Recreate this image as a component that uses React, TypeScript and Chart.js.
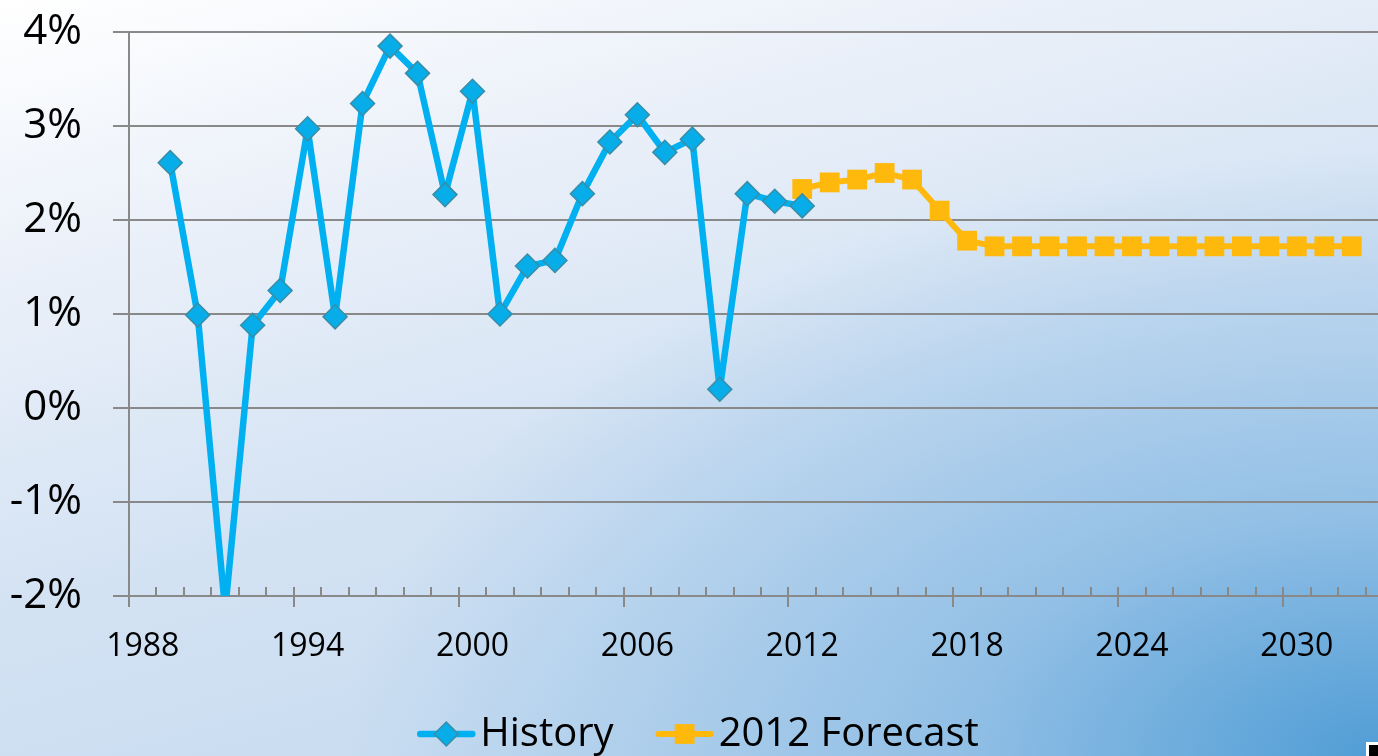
import React, { useEffect, useRef } from "react";
import { Chart, registerables } from "chart.js";

Chart.register(...registerables);

// ---- data ----
const years = [
  "1988", "1989", "1990", "1991", "1992", "1993", "1994", "1995", "1996", "1997",
  "1998", "1999", "2000", "2001", "2002", "2003", "2004", "2005", "2006", "2007",
  "2008", "2009", "2010", "2011", "2012", "2013", "2014", "2015", "2016", "2017",
  "2018", "2019", "2020", "2021", "2022", "2023", "2024", "2025", "2026", "2027",
  "2028", "2029", "2030", "2031", "2032", "2033",
];

const xTickLabels = ["1988", "1994", "2000", "2006", "2012", "2018", "2024", "2030"];
const yTickValues = [-2, -1, 0, 1, 2, 3, 4];

const historyStart = "1989";
const historyValues = [
  2.61, 0.99, -2.15, 0.88, 1.25, 2.97, 0.97, 3.24, 3.85, 3.56, 2.27, 3.37,
  1.0, 1.51, 1.57, 2.28, 2.83, 3.12, 2.72, 2.86, 0.2, 2.28, 2.2, 2.15,
];

const forecastStart = "2012";
const forecastValues = [
  2.33, 2.4, 2.43, 2.5, 2.43, 2.1, 1.78, 1.72, 1.72, 1.72, 1.72, 1.72, 1.72,
  1.72, 1.72, 1.72, 1.72, 1.72, 1.72, 1.72, 1.72,
];

const seriesNames = ["History", "2012 Forecast"];

const FONT = "'Open Sans', sans-serif";
const AXIS_GRAY = "#898989";

function pad(start: string, values: number[]): (number | null)[] {
  const offset = years.indexOf(start);
  return years.map((_, i) =>
    i >= offset && i - offset < values.length ? values[i - offset] : null
  );
}

function drawMarker(
  ctx: CanvasRenderingContext2D,
  style: string,
  x: number,
  y: number,
  r: number,
  fill: string,
  stroke: string,
  bw: number
) {
  ctx.beginPath();
  if (style === "rectRot") {
    ctx.moveTo(x, y - r);
    ctx.lineTo(x + r, y);
    ctx.lineTo(x, y + r);
    ctx.lineTo(x - r, y);
    ctx.closePath();
  } else {
    const s = r * Math.SQRT1_2;
    ctx.rect(x - s, y - s, 2 * s, 2 * s);
  }
  ctx.fillStyle = fill;
  ctx.fill();
  if (bw > 0) {
    ctx.lineWidth = bw;
    ctx.strokeStyle = stroke;
    ctx.stroke();
  }
}

const xTickMarks = {
  id: "xTickMarks",
  beforeDatasetsDraw(chart: any) {
    const xs = chart.scales.x;
    const ctx = chart.ctx as CanvasRenderingContext2D;
    const n = years.length;
    const p0 = xs.getPixelForValue(0);
    const slot = xs.getPixelForValue(1) - p0;
    const b = chart.chartArea.bottom;
    ctx.save();
    ctx.strokeStyle = AXIS_GRAY;
    ctx.lineWidth = 2;
    for (let i = 0; i <= n; i++) {
      const px = Math.round(p0 - slot / 2 + i * slot);
      const major = i < n && xTickLabels.includes(years[i]);
      ctx.beginPath();
      ctx.moveTo(px, b - 9);
      ctx.lineTo(px, major ? b + 11 : b);
      ctx.stroke();
    }
    ctx.restore();
  },
};

const lineLegend = {
  id: "lineLegend",
  afterDraw(chart: any) {
    const ctx = chart.ctx as CanvasRenderingContext2D;
    const dss = chart.data.datasets;
    ctx.save();
    ctx.font = `40px ${FONT}`;
    const lineLen = 58;
    const gap = 5;
    const itemGap = 42;
    const widths = dss.map((d: any) => lineLen + gap + ctx.measureText(d.label).width);
    const total = widths.reduce((a: number, b: number) => a + b, 0) + itemGap * (dss.length - 1);
    let x = 698 - total / 2;
    const y = 734;
    dss.forEach((d: any, i: number) => {
      ctx.beginPath();
      ctx.lineCap = "round";
      ctx.lineWidth = d.borderWidth;
      ctx.strokeStyle = d.borderColor;
      ctx.moveTo(x + 3, y);
      ctx.lineTo(x + lineLen - 3, y);
      ctx.stroke();
      drawMarker(
        ctx,
        d.pointStyle,
        x + lineLen / 2,
        y,
        d.pointRadius,
        d.pointBackgroundColor,
        d.pointBorderColor,
        d.pointBorderWidth
      );
      ctx.fillStyle = "#000000";
      ctx.textBaseline = "middle";
      ctx.textAlign = "left";
      ctx.fillText(d.label, x + lineLen + gap, y + 1);
      x += widths[i] + itemGap;
    });
    ctx.restore();
  },
};

export default function App() {
  const ref = useRef<HTMLCanvasElement | null>(null);

  useEffect(() => {
    if (!ref.current) return;
    const chart = new Chart(ref.current, {
      type: "line",
      data: {
        labels: years,
        datasets: [
          {
            label: seriesNames[0],
            data: pad(historyStart, historyValues),
            borderColor: "#00B0F0",
            borderWidth: 6.5,
            borderJoinStyle: "round",
            pointStyle: "rectRot",
            pointRadius: 12,
            pointBackgroundColor: "#06ADE8",
            pointBorderColor: "#3A8DA6",
            pointBorderWidth: 1.5,
            pointHoverRadius: 12,
            spanGaps: false,
            clip: 0,
            tension: 0,
          },
          {
            label: seriesNames[1],
            data: pad(forecastStart, forecastValues),
            borderColor: "#FFB80C",
            borderWidth: 6,
            borderJoinStyle: "round",
            pointStyle: "rect",
            pointRadius: 14,
            pointBackgroundColor: "#FFB80C",
            pointBorderColor: "#FFB80C",
            pointBorderWidth: 0,
            pointHoverRadius: 14,
            clip: 0,
            tension: 0,
          },
        ] as any,
      },
      options: {
        responsive: false,
        animation: false,
        devicePixelRatio: 1,
        layout: { padding: { left: 0, top: 32, right: 6, bottom: 60 } },
        plugins: {
          legend: { display: false },
          tooltip: { enabled: false },
        },
        scales: {
          x: {
            type: "category",
            offset: true,
            grid: { display: false, drawTicks: false, offset: true },
            border: { display: true, color: AXIS_GRAY, width: 2 },
            ticks: {
              autoSkip: false,
              maxRotation: 0,
              minRotation: 0,
              padding: 32,
              color: "#000000",
              font: { family: FONT, size: 32 },
              callback: (_v: any, i: number) =>
                xTickLabels.includes(years[i]) ? years[i] : "",
            },
            afterFit: (s: any) => {
              s.height = 100;
              s.paddingLeft = 0;
              s.paddingRight = 0;
            },
          },
          y: {
            min: -2,
            max: 4,
            afterBuildTicks: (s: any) => {
              s.ticks = yTickValues.map((v) => ({ value: v }));
            },
            grid: {
              color: AXIS_GRAY,
              lineWidth: 2,
              tickLength: 16,
              drawTicks: true,
            },
            border: { display: true, color: AXIS_GRAY, width: 2 },
            ticks: {
              padding: 31,
              color: "#000000",
              font: { family: FONT, size: 42 },
              callback: (v: any) => `${v}%`,
            },
            afterFit: (s: any) => {
              s.width = 129;
              s.paddingTop = 0;
              s.paddingBottom = 0;
            },
          },
        },
      },
      plugins: [xTickMarks, lineLegend],
    });
    return () => chart.destroy();
  }, []);

  return (
    <div
      style={{
        position: "fixed",
        left: 0,
        top: 0,
        width: 1378,
        height: 756,
        overflow: "hidden",
        background:
          "radial-gradient(ellipse 75% 80% at 100% 100%, rgba(74,154,212,0.95) 0%, rgba(110,172,222,0.6) 40%, rgba(150,195,232,0) 100%), linear-gradient(165deg, #ffffff 0%, #eaf0f9 25%, #d3e2f3 55%, #bfd8ef 100%)",
      }}
    >
      <canvas ref={ref} width={1407} height={756} style={{ display: "block" }} />
      <div
        style={{
          position: "absolute",
          left: 1366,
          top: 742,
          width: 12,
          height: 14,
          background: "#000000",
          borderTop: "3px solid #ffffff",
          borderLeft: "3px solid #ffffff",
          boxSizing: "border-box",
        }}
      />
    </div>
  );
}
